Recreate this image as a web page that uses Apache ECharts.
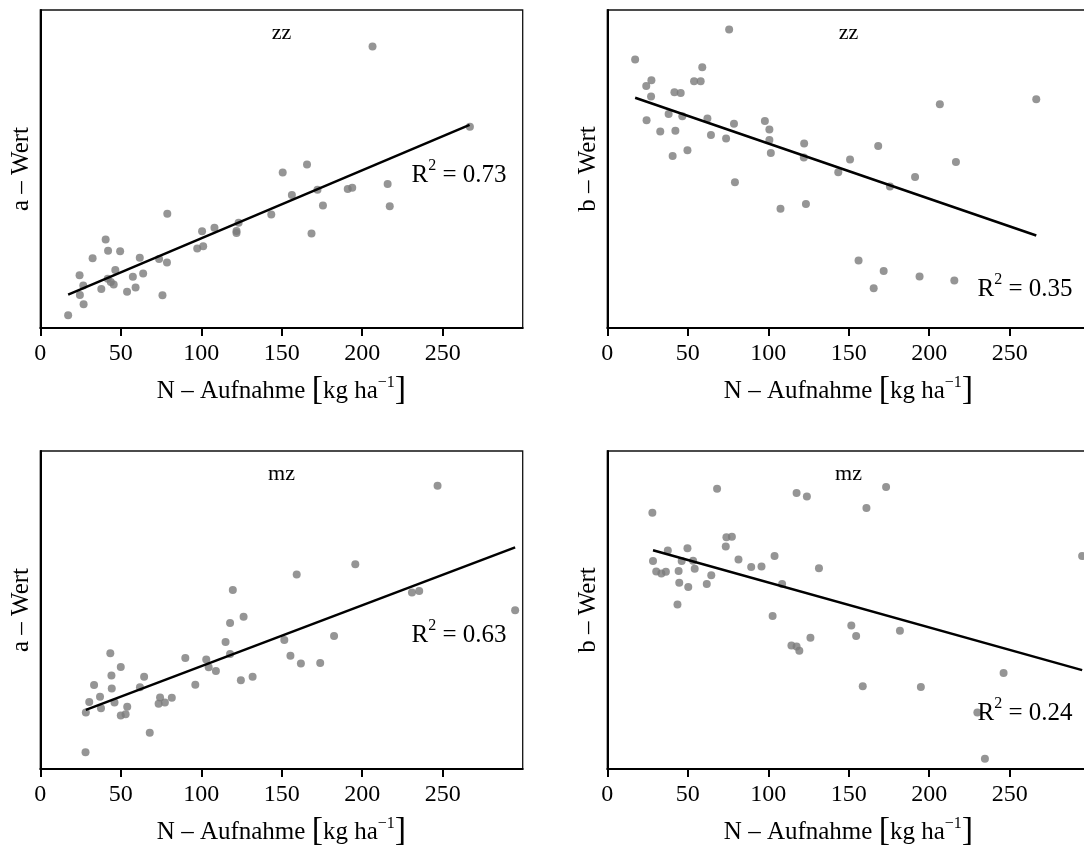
<!DOCTYPE html>
<html>
<head>
<meta charset="utf-8">
<script src="https://cdn.jsdelivr.net/npm/echarts@6/dist/echarts.min.js"></script>
<style>html,body{margin:0;padding:0;background:#fff}#c{width:1084px;height:848px}</style>
</head>
<body>
<div id="c"></div>
<script>
// ---- data (x: N-Aufnahme kg/ha, y: relative units, axis unlabelled) ----
const xTicks = [0, 50, 100, 150, 200, 250];

const zzA_x = [17.3, 206.4, 266.9, 165.7, 150.6, 215.8, 191.0, 193.8, 156.3, 172.2, 175.6, 217.1, 78.9, 143.5, 123.2, 121.9, 121.9, 168.5, 100.5, 108.2, 97.5, 101.2, 40.6, 42.1, 49.6, 32.5, 61.8, 73.8, 78.7, 46.6, 24.4, 57.5, 63.9, 41.9, 43.8, 45.6, 26.7, 37.9, 53.9, 59.2, 75.9, 24.6, 26.9];
const zzA_y = [4.0, 88.5, 63.3, 51.4, 48.9, 45.3, 43.7, 44.1, 41.8, 43.5, 38.5, 38.3, 35.9, 35.7, 33.1, 30.5, 29.9, 29.7, 30.4, 31.5, 25.0, 25.7, 27.8, 24.3, 24.1, 21.9, 22.1, 21.7, 20.6, 18.2, 16.6, 16.1, 17.1, 15.5, 14.5, 13.7, 13.4, 12.3, 11.4, 12.7, 10.3, 10.4, 7.5];

const zzB_x = [17.3, 75.7, 24.2, 27.4, 27.2, 59.0, 53.9, 58.0, 41.7, 45.6, 266.5, 206.6, 24.4, 38.1, 46.6, 62.2, 32.9, 42.3, 64.4, 73.8, 78.7, 97.9, 100.7, 100.7, 101.6, 40.6, 49.8, 122.3, 122.1, 168.3, 150.8, 216.6, 143.5, 191.2, 175.6, 79.3, 107.6, 123.4, 156.1, 171.7, 165.5, 194.0, 215.6];
const zzB_y = [84.4, 93.9, 76.1, 77.9, 72.8, 82.0, 77.6, 77.6, 74.1, 73.9, 71.9, 70.4, 65.3, 67.3, 66.6, 65.9, 61.8, 62.0, 60.7, 59.6, 64.2, 65.1, 62.4, 59.1, 55.0, 54.1, 55.9, 58.0, 53.6, 57.2, 53.0, 52.2, 49.0, 47.5, 44.5, 45.8, 37.5, 39.0, 21.2, 17.9, 12.5, 16.2, 14.9];

const mzA_x = [246.8, 195.7, 159.3, 119.6, 230.9, 235.4, 295.0, 126.3, 117.9, 182.5, 151.6, 115.1, 117.9, 155.4, 161.9, 173.9, 90.1, 103.1, 104.6, 109.1, 43.5, 50.0, 44.2, 64.5, 124.6, 131.9, 33.4, 96.3, 44.4, 61.9, 37.1, 37.7, 30.4, 46.1, 74.4, 73.5, 77.4, 81.7, 54.0, 50.0, 53.0, 28.3, 68.0, 28.1];
const mzA_y = [89.1, 64.4, 61.2, 56.3, 55.5, 56.0, 49.9, 47.9, 45.9, 41.8, 40.6, 39.9, 36.2, 35.6, 33.2, 33.3, 34.9, 34.4, 32.0, 30.8, 36.4, 32.1, 29.4, 29.0, 27.9, 29.0, 26.4, 26.5, 25.3, 25.7, 22.7, 19.1, 21.1, 20.9, 22.5, 20.5, 20.9, 22.4, 19.6, 16.8, 17.2, 17.8, 11.4, 5.3];

const mzB_x = [28.0, 68.2, 117.6, 124.0, 173.2, 161.0, 74.0, 77.4, 73.6, 49.8, 37.6, 28.4, 30.4, 33.6, 36.4, 46.2, 53.3, 81.5, 103.9, 295.0, 44.3, 54.3, 89.4, 95.8, 64.6, 44.7, 61.8, 50.3, 108.6, 131.5, 43.6, 102.7, 151.6, 154.6, 181.8, 126.2, 114.4, 117.6, 119.3, 246.2, 158.7, 194.8, 229.9, 234.6];
const mzB_y = [80.6, 88.1, 86.8, 85.7, 88.7, 82.1, 72.9, 73.0, 70.0, 69.4, 68.7, 65.4, 62.1, 61.5, 62.0, 65.4, 65.5, 65.9, 67.0, 67.0, 62.3, 63.0, 63.5, 63.7, 60.9, 58.6, 58.2, 57.2, 58.2, 63.1, 51.7, 48.1, 45.1, 41.8, 43.5, 41.3, 38.8, 38.5, 37.2, 30.2, 26.0, 25.8, 17.8, 3.2];

// regression line end points
const zzA_fit_x = [17.3, 266.7], zzA_fit_y = [10.5, 63.9];
const zzB_fit_x = [17.3, 266.5], zzB_fit_y = [72.4, 29.1];
const mzA_fit_x = [28.3, 295.0], mzA_fit_y = [18.6, 69.7];
const mzB_fit_x = [28.4, 295.0], mzB_fit_y = [68.8, 31.1];

const panelTitles = ['zz', 'zz', 'mz', 'mz'];
const yNames = ['a – Wert', 'b – Wert', 'a – Wert', 'b – Wert'];
const r2Values = ['0.73', '0.35', '0.63', '0.24'];

// ---- layout ----
const FONT = '"Liberation Serif", "Times New Roman", "DejaVu Serif", serif';
const GW = 482.4, GH = 318;
const grids = [
  {left: 40.3, top: 10}, {left: 607.3, top: 10},
  {left: 40.3, top: 451}, {left: 607.3, top: 451}
];
const r2Pos = [[459, 173], [1025, 287], [459, 633], [1025, 711]];

const panels = [
  [zzA_x, zzA_y, zzA_fit_x, zzA_fit_y],
  [zzB_x, zzB_y, zzB_fit_x, zzB_fit_y],
  [mzA_x, mzA_y, mzA_fit_x, mzA_fit_y],
  [mzB_x, mzB_y, mzB_fit_x, mzB_fit_y]
];
const zip = (a, b) => a.map((v, i) => [v, b[i]]);

const option = {
  animation: false,
  backgroundColor: '#fff',
  grid: grids.map(g => ({
    left: g.left, top: g.top, width: GW, height: GH, show: true,
    outerBoundsMode: 'none', containLabel: false,
    borderColor: '#111', borderWidth: 1.3, backgroundColor: 'transparent'
  })),
  xAxis: grids.map((g, i) => ({
    gridIndex: i, type: 'value', min: 0, max: 299.7, interval: 50,
    axisLine: {show: true, onZero: false, lineStyle: {color: '#000', width: 2}},
    axisTick: {show: true, length: 8, customValues: xTicks, lineStyle: {color: '#000', width: 2}},
    axisLabel: {customValues: xTicks, margin: 14, fontSize: 24, color: '#000', fontFamily: FONT},
    splitLine: {show: false},
    name: '{t|N – Aufnahme }{b|[}{t|kg ha}{s|−1}{b|]}',
    nameLocation: 'middle', nameGap: 45,
    nameTextStyle: {
      fontFamily: FONT, color: '#000', fontSize: 25,
      rich: {
        t: {fontFamily: FONT, fontSize: 25, color: '#000', lineHeight: 34, verticalAlign: 'bottom', padding: [0, 0, 3, 0]},
        b: {fontFamily: FONT, fontSize: 34, color: '#000', lineHeight: 34, verticalAlign: 'bottom'},
        s: {fontFamily: FONT, fontSize: 16, color: '#000', lineHeight: 34, verticalAlign: 'top', padding: [2, 0, 0, 0]}
      }
    }
  })),
  yAxis: grids.map((g, i) => ({
    gridIndex: i, type: 'value', min: 0, max: 100,
    axisLine: {show: true, onZero: false, lineStyle: {color: '#000', width: 2}},
    axisTick: {show: false}, axisLabel: {show: false}, splitLine: {show: false},
    name: yNames[i], nameLocation: 'middle', nameGap: 6,
    nameTextStyle: {fontFamily: FONT, fontSize: 25, color: '#000'}
  })),
  series: [],
  graphic: []
};

panels.forEach((p, i) => {
  option.series.push({
    type: 'scatter', xAxisIndex: i, yAxisIndex: i,
    data: zip(p[0], p[1]), symbolSize: 8,
    itemStyle: {color: '#7a7a7a'}, z: 2
  });
  option.series.push({
    type: 'line', xAxisIndex: i, yAxisIndex: i,
    data: zip(p[2], p[3]), showSymbol: false, symbol: 'none',
    lineStyle: {color: '#000', width: 2.5}, z: 3
  });
  const g = grids[i];
  option.graphic.push({
    type: 'text', x: g.left + GW / 2, y: g.top + 23, z: 10,
    style: {text: panelTitles[i], font: '22px ' + FONT, fill: '#000', align: 'center', verticalAlign: 'middle'}
  });
  option.graphic.push({
    type: 'text', x: r2Pos[i][0], y: r2Pos[i][1], z: 10,
    style: {
      text: '{r|R}{s|2}{r| = ' + r2Values[i] + '}',
      align: 'center', verticalAlign: 'middle', fill: '#000',
      rich: {
        r: {fontFamily: FONT, fontSize: 25, fill: '#000', lineHeight: 30, verticalAlign: 'bottom'},
        s: {fontFamily: FONT, fontSize: 16, fill: '#000', lineHeight: 30, verticalAlign: 'top'}
      }
    }
  });
});

const chart = echarts.init(document.getElementById('c'), null, {renderer: 'canvas'});
chart.setOption(option);
</script>
</body>
</html>
